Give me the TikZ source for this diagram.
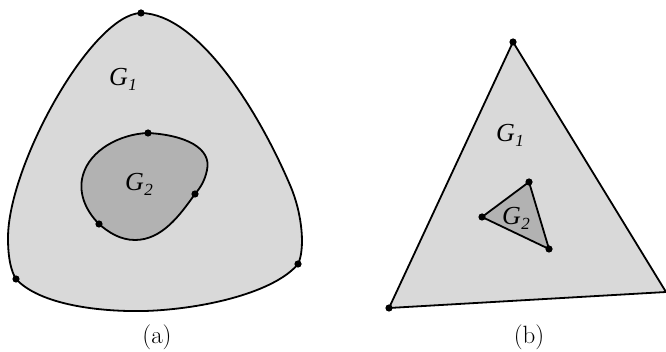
\documentclass[tikz,border=0pt]{standalone}
\usepackage{fontspec}
\newfontfamily\glab{Liberation Serif}
\newcommand{\gsub}[1]{G\kern0.5pt\raisebox{-5pt}{\fontsize{17}{17}\selectfont #1}}
\begin{document}
\begin{tikzpicture}[x=1pt,y=-1pt,
  outer/.style={draw=black,line width=1.8pt,fill=black!15},
  inner/.style={draw=black,line width=1.8pt,fill=black!30},
  dotp/.style={fill=black,draw=none},
  glabel/.style={font=\glab\itshape\fontsize{26}{28}\selectfont,inner sep=0pt},
  caption/.style={font=\fontsize{25}{27}\selectfont,inner sep=0pt}]
\useasboundingbox (0,0) rectangle (666,352);
% (a)
\coordinate (aT) at (141,13);
\coordinate (aL) at (16,279);
\coordinate (aR) at (298,264);
\path[outer] (aT) .. controls (92,14) and (8,165) .. (8,238)
  .. controls (8,258) and (11,271) .. (aL)
  .. controls (40,305) and (100,312) .. (145,311)
  .. controls (205,309) and (275,292) .. (aR)
  .. controls (305,250) and (303,215) .. (290,185)
  .. controls (258,110) and (198,14) .. (aT) -- cycle;
\coordinate (bT) at (148,133);
\coordinate (bR) at (195,194);
\coordinate (bL) at (99,224);
\path[inner] (bT) .. controls (185,135) and (212,148) .. (207,170)
  .. controls (205,180) and (201,187) .. (bR)
  .. controls (180,215) and (162,240) .. (135,240)
  .. controls (120,240) and (108,232) .. (bL)
  .. controls (85,210) and (78,192) .. (83,175)
  .. controls (90,150) and (120,134) .. (bT) -- cycle;
\foreach \p in {aT,aL,aR,bT,bR,bL} \fill[dotp] (\p) circle (3.6);
\node[glabel] (g1a) at (123,79) {\gsub{1}};
\node[glabel] (g2a) at (139,184) {\gsub{2}};
\node[caption] (capa) at (157,337) {(a)};
% (b)
\coordinate (cT) at (513,42);
\coordinate (cL) at (389,308);
\coordinate (cR) at (666,292);
\path[outer] (cT) -- (cR) -- (cL) -- cycle;
\coordinate (dA) at (482,217);
\coordinate (dB) at (529,182);
\coordinate (dC) at (549,249);
\path[inner] (dA) -- (dB) -- (dC) -- cycle;
\foreach \p in {cT,cL,dA,dB,dC} \fill[dotp] (\p) circle (3.6);
\node[glabel] (g1b) at (510,135) {\gsub{1}};
\node[glabel] (g2b) at (516,218) {\gsub{2}};
\node[caption] (capb) at (529,337) {(b)};
\end{tikzpicture}
\end{document}
